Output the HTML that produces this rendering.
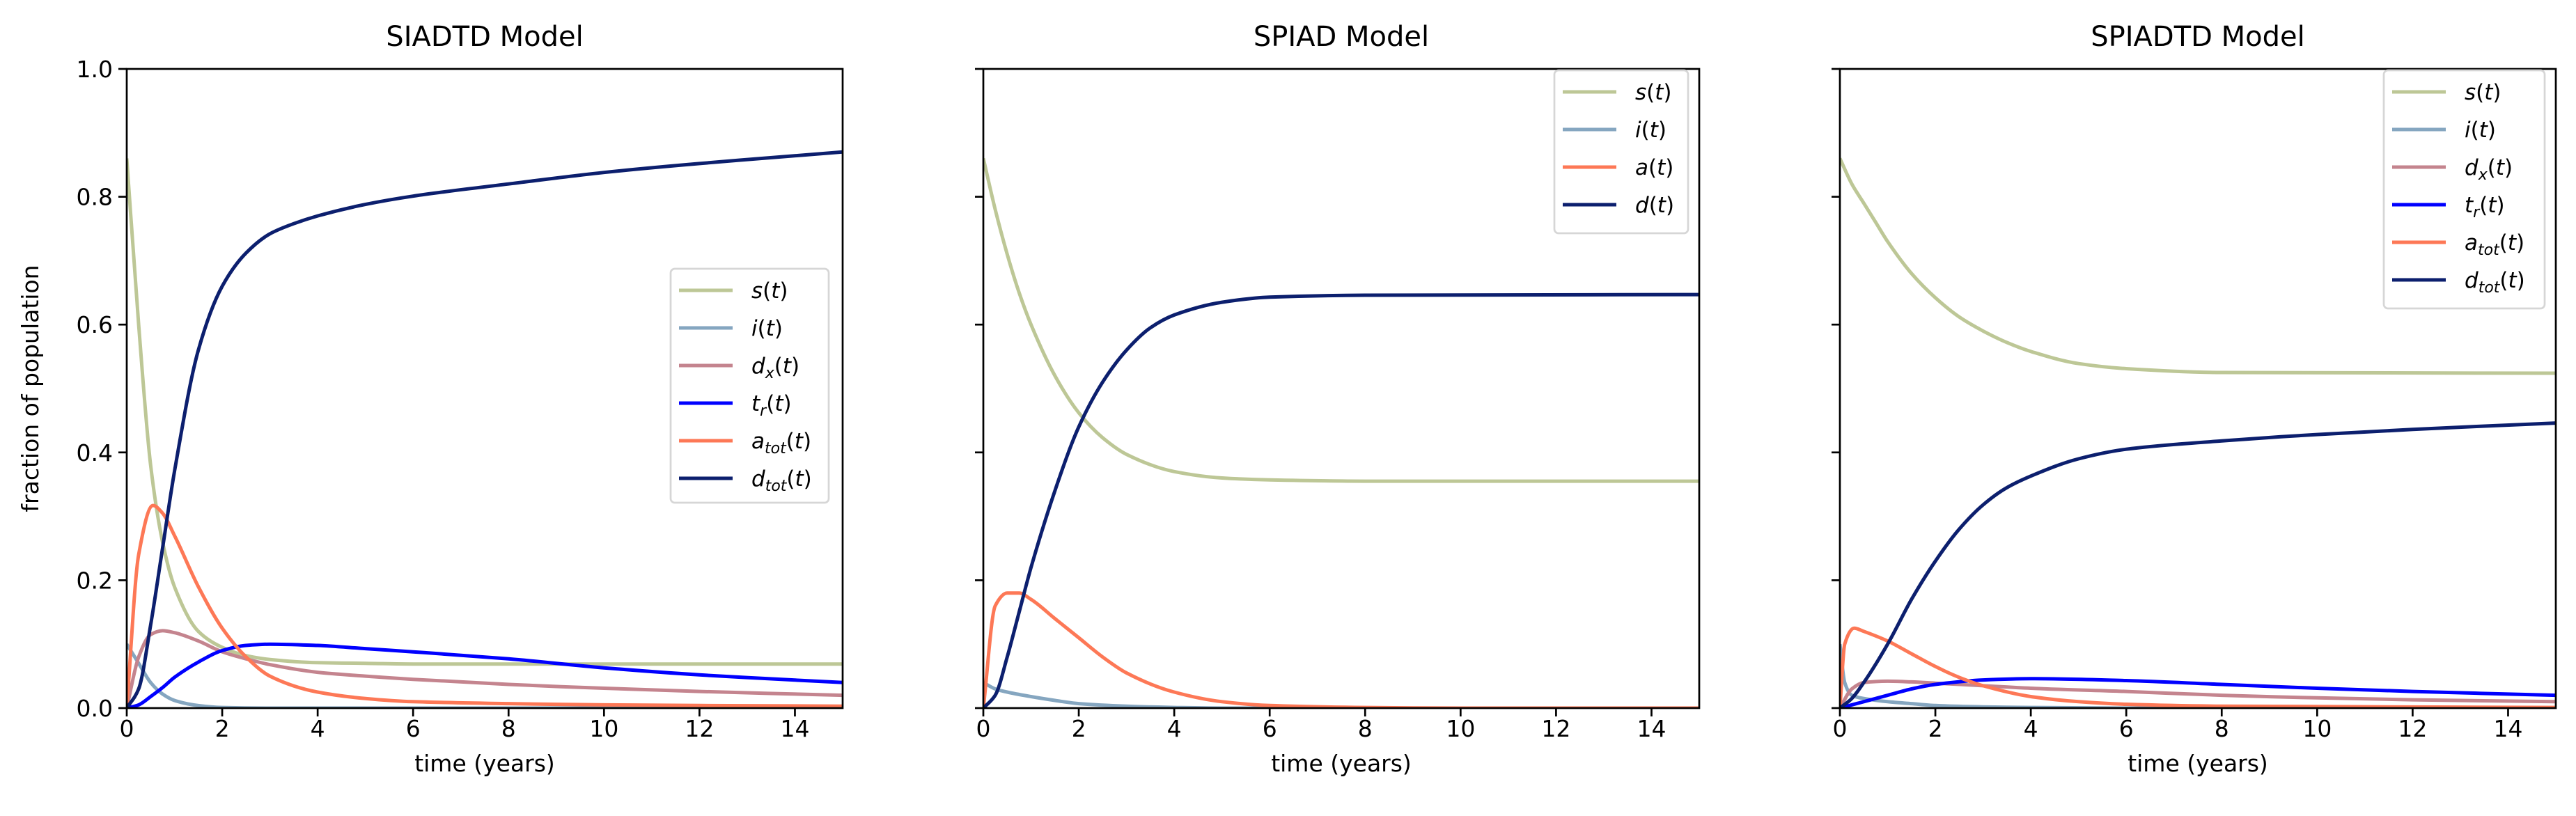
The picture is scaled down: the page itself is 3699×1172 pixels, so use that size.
<!DOCTYPE html>
<html><head><meta charset="utf-8"><style>
body{margin:0;background:#fff}
svg{display:block;font-family:"DejaVu Sans","Liberation Sans",sans-serif}
</style></head><body>
<svg id="fig" width="3699" height="1172" viewBox="0 0 3699 1172" xmlns="http://www.w3.org/2000/svg"></svg>
<script>
const xTicks=[0,2,4,6,8,10,12,14];
const yTicks=[0,0.2,0.4,0.6,0.8,1.0];
const yTickLabels=["0.0","0.2","0.4","0.6","0.8","1.0"];
const titles=["SIADTD Model","SPIAD Model","SPIADTD Model"];
// Panel 1 (SIADTD)
const p1_s_t=[0,0.25,0.5,0.75,1,1.5,2,2.5,3,4,5,6,8,10,12,15];
const p1_s_v=[0.86,0.6,0.38,0.26,0.19,0.12,0.095,0.082,0.076,0.071,0.07,0.069,0.069,0.069,0.069,0.069];
const p1_i_t=[0,0.25,0.5,0.75,1,1.5,2,3,15];
const p1_i_v=[0.1,0.07,0.04,0.022,0.012,0.004,0.001,0,0];
const p1_dx_t=[0,0.25,0.5,0.75,1,1.5,2,2.5,3,4,5,6,8,10,12,15];
const p1_dx_v=[0,0.08,0.115,0.121,0.118,0.105,0.088,0.077,0.068,0.056,0.05,0.045,0.037,0.031,0.026,0.02];
const p1_tr_t=[0,0.25,0.5,0.75,1,1.5,2,2.5,3,4,5,6,8,10,12,15];
const p1_tr_v=[0,0.005,0.018,0.032,0.048,0.072,0.09,0.098,0.1,0.098,0.093,0.088,0.077,0.063,0.052,0.04];
const p1_a_t=[0,0.25,0.55,0.75,1,1.5,2,2.5,3,4,5,6,8,10,12,15];
const p1_a_v=[0,0.24,0.317,0.305,0.27,0.19,0.125,0.08,0.05,0.025,0.015,0.01,0.007,0.005,0.004,0.003];
const p1_d_t=[0,0.25,0.5,0.75,1,1.5,2,2.5,3,3.5,4,5,6,8,10,12,15];
const p1_d_v=[0,0.03,0.13,0.25,0.37,0.56,0.66,0.712,0.742,0.758,0.77,0.788,0.801,0.82,0.838,0.852,0.87];
// Panel 2 (SPIAD)
const p2_s_t=[0,0.25,0.5,0.75,1,1.5,2,2.5,3,4,5,6,8,15];
const p2_s_v=[0.86,0.78,0.71,0.65,0.6,0.52,0.462,0.423,0.397,0.37,0.36,0.357,0.355,0.355];
const p2_i_t=[0,0.25,0.5,1,1.5,2,3,4,5,15];
const p2_i_v=[0.04,0.03,0.025,0.018,0.012,0.007,0.003,0.001,0,0];
const p2_a_t=[0,0.25,0.5,0.75,1,1.5,2,2.5,3,4,5,6,8,10,15];
const p2_a_v=[0,0.16,0.18,0.18,0.17,0.14,0.11,0.08,0.055,0.025,0.01,0.004,0.001,0,0];
const p2_d_t=[0,0.25,0.5,0.75,1,1.5,2,2.5,3,3.5,4,5,6,8,15];
const p2_d_v=[0,0.02,0.08,0.15,0.22,0.34,0.44,0.51,0.56,0.595,0.615,0.635,0.643,0.646,0.647];
// Panel 3 (SPIADTD)
const p3_s_t=[0,0.25,0.5,0.75,1,1.5,2,2.5,3,3.5,4,5,6,8,15];
const p3_s_v=[0.86,0.82,0.79,0.76,0.73,0.68,0.642,0.612,0.59,0.572,0.558,0.539,0.531,0.525,0.524];
const p3_i_t=[0,0.1,0.25,0.5,1,1.5,2,3,4,6,15];
const p3_i_v=[0.1,0.04,0.02,0.015,0.01,0.007,0.004,0.002,0.001,0,0];
const p3_dx_t=[0,0.25,0.5,1,1.5,2,3,4,6,8,10,12,15];
const p3_dx_v=[0,0.03,0.04,0.042,0.041,0.039,0.035,0.031,0.026,0.02,0.016,0.013,0.01];
const p3_tr_t=[0,0.5,1,1.5,2,3,4,6,8,10,12,15];
const p3_tr_v=[0,0.01,0.02,0.03,0.037,0.044,0.046,0.043,0.037,0.031,0.026,0.02];
const p3_a_t=[0,0.1,0.3,0.5,1,1.5,2,2.5,3,4,5,6,8,15];
const p3_a_v=[0,0.1,0.125,0.12,0.105,0.085,0.065,0.048,0.035,0.018,0.01,0.006,0.003,0.001];
const p3_d_t=[0,0.25,0.5,1,1.5,2,2.5,3,3.5,4,5,6,8,10,12,15];
const p3_d_v=[0,0.015,0.04,0.1,0.17,0.23,0.28,0.318,0.345,0.363,0.39,0.405,0.418,0.428,0.436,0.446];

const C={s:"#bdc796",i:"#85a6c0",dx:"#c4848e",tr:"#0000ff",a:"#fd7856",d:"#0c1f6e"};
const L={s:["s",""],i:["i",""],dx:["d","x"],tr:["t","r"],a:["a","tot"],d:["d","tot"]};
const panels=[
 {x0:182,series:[["s",p1_s_t,p1_s_v],["i",p1_i_t,p1_i_v],["dx",p1_dx_t,p1_dx_v],["tr",p1_tr_t,p1_tr_v],["a",p1_a_t,p1_a_v],["d",p1_d_t,p1_d_v]],leg:[963,386,227,336],labels:{},ylab:true},
 {x0:1412,series:[["s",p2_s_t,p2_s_v],["i",p2_i_t,p2_i_v],["a",p2_a_t,p2_a_v],["d",p2_d_t,p2_d_v]],leg:[2232,101,192,234],labels:{a:["a",""],d:["d",""]}},
 {x0:2642,series:[["s",p3_s_t,p3_s_v],["i",p3_i_t,p3_i_v],["dx",p3_dx_t,p3_dx_v],["tr",p3_tr_t,p3_tr_v],["a",p3_a_t,p3_a_v],["d",p3_d_t,p3_d_v]],leg:[3423,101,231,342],labels:{}}
];
const W=1028,Y0=99,H=918;
const NS="http://www.w3.org/2000/svg";
const svg=document.getElementById("fig");
function el(tag,attrs,parent){const e=document.createElementNS(NS,tag);for(const k in attrs)e.setAttribute(k,attrs[k]);(parent||svg).appendChild(e);return e;}
function mono(pts){
 const n=pts.length;if(n<2)return "";
 const dx=[],m=[],d=[];
 for(let k=0;k<n-1;k++){dx.push(pts[k+1][0]-pts[k][0]);m.push((pts[k+1][1]-pts[k][1])/dx[k]);}
 d.push(m[0]);
 for(let k=1;k<n-1;k++){d.push(m[k-1]*m[k]<=0?0:(dx[k-1]+dx[k])*3/((2*dx[k]+dx[k-1])/m[k-1]+(dx[k]+2*dx[k-1])/m[k]));}
 d.push(m[n-2]);
 let p="M"+pts[0][0].toFixed(1)+","+pts[0][1].toFixed(1);
 for(let k=0;k<n-1;k++){const h=dx[k]/3;
  p+="C"+(pts[k][0]+h).toFixed(1)+","+(pts[k][1]+d[k]*h).toFixed(1)+" "+(pts[k+1][0]-h).toFixed(1)+","+(pts[k+1][1]-d[k+1]*h).toFixed(1)+" "+pts[k+1][0].toFixed(1)+","+pts[k+1][1].toFixed(1);}
 return p;
}
panels.forEach((P,pi)=>{
 const g=el("g",{});
 
 
 const xs=t=>P.x0+t/15*W, ys=v=>Y0+H-(v/1.0)*H;
 const cp=el("clipPath",{id:"cp"+pi},g);el("rect",{x:P.x0,y:Y0,width:W,height:H},cp);
 P.series.forEach(([k,ts,vs])=>{
  const pts=ts.map((t,j)=>[xs(t),ys(vs[j])]);
  const path=el("path",{d:mono(pts),fill:"none",stroke:C[k],"stroke-width":5,"clip-path":"url(#cp"+pi+")","stroke-linejoin":"round"},g);
  
  
 });
 const frame=el("rect",{x:P.x0,y:Y0,width:W,height:H,fill:"none",stroke:"#000","stroke-width":2.7},g);
 
 
 xTicks.forEach(t=>{
  el("line",{x1:xs(t),x2:xs(t),y1:Y0+H,y2:Y0+H+12,stroke:"#000","stroke-width":2.7},g);
  const tx=el("text",{x:xs(t),y:1058,"font-size":33,"text-anchor":"middle"},g);tx.textContent=t;
  
  
 });
 yTicks.forEach((v,j)=>{
  el("line",{x1:P.x0-12,x2:P.x0,y1:ys(v),y2:ys(v),stroke:"#000","stroke-width":2.7},g);
  if(pi===0){const ty=el("text",{x:P.x0-20,y:ys(v)+12,"font-size":33,"text-anchor":"end"},g);ty.textContent=yTickLabels[j];
   
   }
 });
 const xl=el("text",{x:P.x0+W/2,y:1108,"font-size":33,"text-anchor":"middle"},g);xl.textContent="time (years)";
 
 
 const ti=el("text",{x:P.x0+W/2,y:66,"font-size":40,"text-anchor":"middle"},g);ti.textContent=titles[pi];
 
 
 if(P.ylab){const yl=el("text",{x:0,y:0,"font-size":33,"text-anchor":"middle",transform:"translate(55,"+(Y0+H/2)+") rotate(-90)"},g);yl.textContent="fraction of population";
  
  }
 const [lx,ly,lw,lh]=P.leg;
 const lg=el("g",{},g);
 
 
 el("rect",{x:lx,y:ly,width:lw,height:lh,rx:6,fill:"#fff","fill-opacity":0.8,stroke:"#d6d6d6","stroke-width":2.7},lg);
 P.series.forEach(([k],j)=>{
  const yy=ly+31+j*54;
  el("line",{x1:lx+12,x2:lx+89,y1:yy,y2:yy,stroke:C[k],"stroke-width":5},lg);
  const lab=P.labels[k]||L[k];
  const t=el("text",{x:lx+116,y:yy+11,"font-size":31},lg);
  
  
  const a=el("tspan",{"font-style":"italic"},t);a.textContent=lab[0];
  if(lab[1]){const b=el("tspan",{"font-style":"italic","font-size":22,dy:7},t);b.textContent=lab[1];
   const c=el("tspan",{dy:-7},t);c.textContent="(";}
  else{const c=el("tspan",{},t);c.textContent="(";}
  const e=el("tspan",{"font-style":"italic"},t);e.textContent="t";
  const f=el("tspan",{},t);f.textContent=")";
 });
});
</script>
</body></html>
